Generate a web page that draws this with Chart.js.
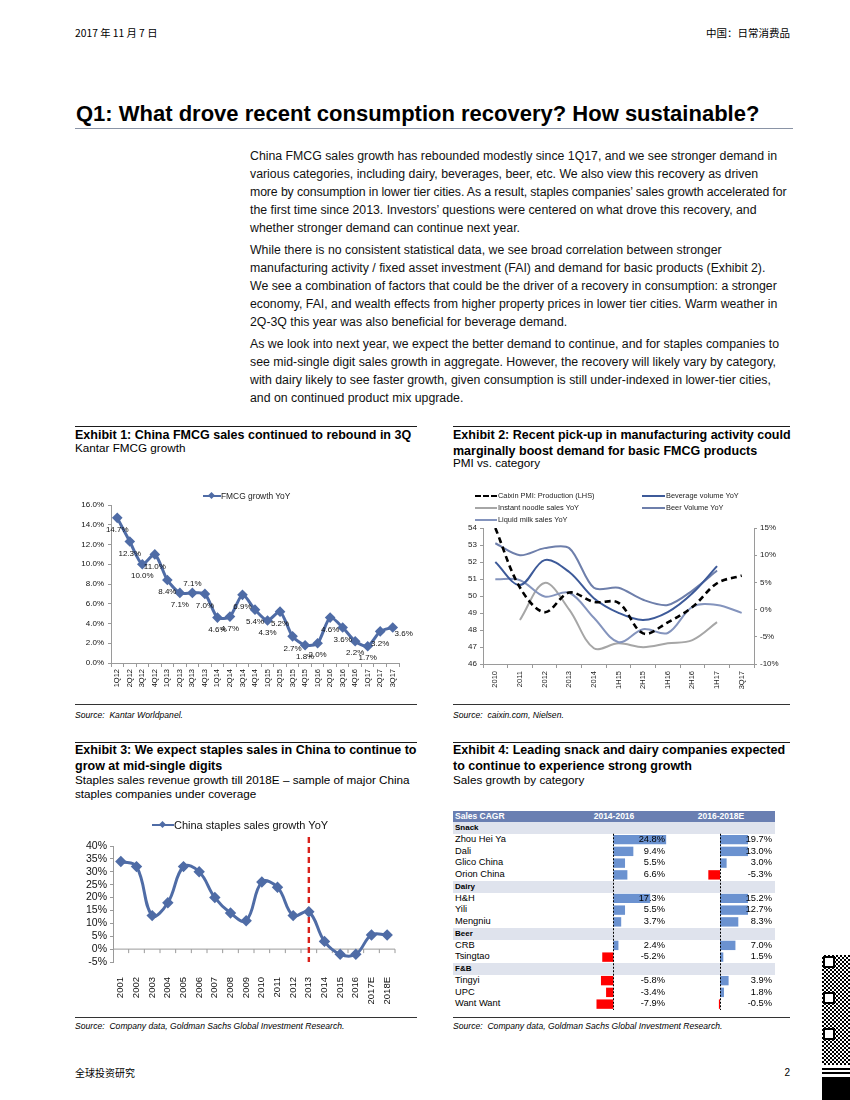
<!DOCTYPE html>
<html><head><meta charset="utf-8">
<script src="https://cdn.jsdelivr.net/npm/chart.js@4.4.1/dist/chart.umd.min.js"></script>
<style>
html,body{margin:0;padding:0;background:#fff;}
body{width:850px;height:1100px;position:relative;overflow:hidden;font-family:'Liberation Sans',Arial,sans-serif;color:#000;}
.abs{position:absolute;white-space:nowrap;}
.cjk{font-family:'Noto Sans CJK SC','Liberation Sans',sans-serif;}
.body{position:absolute;left:250px;font-size:12.3px;line-height:18px;white-space:pre;color:#111;}
.tight{letter-spacing:-0.11px;}
.h{position:absolute;font-weight:bold;font-size:12.5px;line-height:16px;white-space:pre;}
.sub{position:absolute;font-size:11.7px;line-height:14px;white-space:pre;}
.rule{position:absolute;height:1.4px;background:#1a1a1a;}
.thin{position:absolute;height:1px;background:#333;}
.src{position:absolute;font-style:italic;font-size:8.6px;line-height:11px;white-space:nowrap;}
canvas{position:absolute;}
.leg{position:absolute;font-size:7.4px;line-height:10px;white-space:nowrap;color:#222;}
.legline{position:absolute;height:0;}
.cell{position:absolute;white-space:nowrap;font-size:9px;}
</style>
</head>
<body>
<div class="abs cjk" style="left:75px;top:26px;font-size:10.3px;line-height:14px;">2017 年 11 月 7 日</div>
<div class="abs cjk" style="right:60px;top:26px;font-size:10.5px;line-height:14px;">中国：日常消费品</div>

<div class="abs" style="left:76px;top:101px;font-size:22px;line-height:25px;font-weight:bold;">Q1: What drove recent consumption recovery? How sustainable?</div>
<div class="abs" style="left:75px;top:128px;width:718px;height:1px;background:#8a94a6;"></div>

<div class="body" style="top:147px;">China FMCG sales growth has rebounded modestly since 1Q17, and we see stronger demand in
various categories, including dairy, beverages, beer, etc. We also view this recovery as driven
<span class="tight">more by consumption in lower tier cities. As a result, staples companies’ sales growth accelerated for</span>
the first time since 2013. Investors’ questions were centered on what drove this recovery, and
whether stronger demand can continue next year.</div>
<div class="body" style="top:241px;">While there is no consistent statistical data, we see broad correlation between stronger
manufacturing activity / fixed asset investment (FAI) and demand for basic products (Exhibit 2).
We see a combination of factors that could be the driver of a recovery in consumption: a stronger
economy, FAI, and wealth effects from higher property prices in lower tier cities. Warm weather in
2Q-3Q this year was also beneficial for beverage demand.</div>
<div class="body" style="top:335px;">As we look into next year, we expect the better demand to continue, and for staples companies to
see mid-single digit sales growth in aggregate. However, the recovery will likely vary by category,
with dairy likely to see faster growth, given consumption is still under-indexed in lower-tier cities,
and on continued product mix upgrade.</div>

<!-- Exhibit 1 heading -->
<div class="rule" style="left:75px;top:426px;width:342px;"></div>
<div class="h" style="left:75px;top:427px;">Exhibit 1: China FMCG sales continued to rebound in 3Q</div>
<div class="sub" style="left:75px;top:441px;">Kantar FMCG growth</div>
<!-- Exhibit 2 heading -->
<div class="rule" style="left:453px;top:426px;width:337px;"></div>
<div class="h" style="left:453px;top:427px;">Exhibit 2: Recent pick-up in manufacturing activity could
marginally boost demand for basic FMCG products</div>
<div class="sub" style="left:453px;top:456px;">PMI vs. category</div>

<!-- chart 1 -->
<canvas id="c1" width="345" height="215" style="left:75px;top:485px;"></canvas>
<div class="legline" style="left:203px;top:495px;width:18px;border-top:2.5px solid #4f6ca6;"></div>
<div class="abs" style="left:209px;top:493px;width:5px;height:5px;background:#4f6ca6;transform:rotate(45deg);"></div>
<div class="abs" style="left:221px;top:491px;font-size:8.4px;line-height:10px;color:#222;">FMCG growth YoY</div>

<!-- chart 2 -->
<canvas id="c2" width="337" height="220" style="left:453px;top:480px;"></canvas>
<div class="legline" style="left:475px;top:495px;width:22px;border-top:2.5px dashed #000;"></div>
<div class="leg" style="left:498px;top:491px;">Caixin PMI: Production (LHS)</div>
<div class="legline" style="left:475px;top:507px;width:22px;border-top:2px solid #a6a6a6;"></div>
<div class="leg" style="left:498px;top:503px;">Instant noodle sales YoY</div>
<div class="legline" style="left:475px;top:519px;width:22px;border-top:2px solid #8494bd;"></div>
<div class="leg" style="left:498px;top:515px;">Liquid milk sales YoY</div>
<div class="legline" style="left:642px;top:495px;width:23px;border-top:2px solid #3d5a99;"></div>
<div class="leg" style="left:666px;top:491px;">Beverage volume YoY</div>
<div class="legline" style="left:642px;top:507px;width:23px;border-top:2px solid #6e7fab;"></div>
<div class="leg" style="left:666px;top:503px;">Beer Volume YoY</div>

<!-- sources 1/2 -->
<div class="thin" style="left:75px;top:704px;width:342px;"></div>
<div class="src" style="left:75px;top:710px;">Source:&nbsp; Kantar Worldpanel.</div>
<div class="thin" style="left:453px;top:704px;width:337px;"></div>
<div class="src" style="left:453px;top:710px;">Source:&nbsp; caixin.com, Nielsen.</div>

<!-- Exhibit 3 heading -->
<div class="rule" style="left:75px;top:742px;width:342px;"></div>
<div class="h" style="left:75px;top:742px;">Exhibit 3: We expect staples sales in China to continue to
grow at mid-single digits</div>
<div class="sub" style="left:75px;top:773px;">Staples sales revenue growth till 2018E – sample of major China
staples companies under coverage</div>
<!-- Exhibit 4 heading -->
<div class="rule" style="left:453px;top:742px;width:337px;"></div>
<div class="h" style="left:453px;top:742px;">Exhibit 4: Leading snack and dairy companies expected
to continue to experience strong growth</div>
<div class="sub" style="left:453px;top:773px;">Sales growth by category</div>

<!-- chart 3 -->
<canvas id="c3" width="345" height="200" style="left:75px;top:810px;"></canvas>
<div class="legline" style="left:152px;top:824px;width:22px;border-top:2.5px solid #4f6ca6;"></div>
<div class="abs" style="left:160px;top:822px;width:5px;height:5px;background:#4f6ca6;transform:rotate(45deg);"></div>
<div class="abs" style="left:174px;top:818px;font-size:11px;line-height:14px;color:#111;">China staples sales growth YoY</div>

<!-- table 4 -->
<div id="tbl"></div>
<canvas id="c4a" width="73" height="188" style="left:594px;top:822px;"></canvas>
<canvas id="c4b" width="44" height="188" style="left:704px;top:822px;"></canvas>

<!-- sources 3/4 -->
<div class="thin" style="left:75px;top:1017px;width:342px;"></div>
<div class="src" style="left:75px;top:1021px;">Source:&nbsp; Company data, Goldman Sachs Global Investment Research.</div>
<div class="thin" style="left:453px;top:1017px;width:337px;"></div>
<div class="src" style="left:453px;top:1021px;">Source:&nbsp; Company data, Goldman Sachs Global Investment Research.</div>

<div class="abs cjk" style="left:75px;top:1066px;font-size:10px;line-height:14px;">全球投资研究</div>
<div class="abs" style="right:60px;top:1066px;font-size:10px;line-height:14px;">2</div>

<!-- QR-like mark -->
<div class="abs" style="left:822px;top:955px;width:28px;height:110px;background:repeating-conic-gradient(#000 0 25%,#fff 0 50%) 0 0/4px 4px;"></div>
<div class="abs" style="left:823px;top:956px;width:8px;height:8px;border:2px solid #000;background:#fff;"></div>
<div class="abs" style="left:823px;top:992px;width:8px;height:8px;border:2px solid #000;background:#fff;"></div>
<div class="abs" style="left:823px;top:1028px;width:8px;height:8px;border:2px solid #000;background:#fff;"></div>
<div class="abs" style="left:822px;top:1068px;width:28px;height:2px;background:#000;"></div>
<div class="abs" style="left:822px;top:1072px;width:28px;height:2px;background:#000;"></div>
<div class="abs" style="left:822px;top:1077px;width:28px;height:23px;background:#000;"></div>

<script>
// ---------- DATA ----------
const fmcgQuarters = ['1Q12','2Q12','3Q12','4Q12','1Q13','2Q13','3Q13','4Q13','1Q14','2Q14','3Q14','4Q14','1Q15','2Q15','3Q15','4Q15','1Q16','2Q16','3Q16','4Q16','1Q17','2Q17','3Q17'];
const fmcgGrowth = [14.7,12.3,10.0,11.0,8.4,7.1,7.1,7.0,4.6,4.7,6.9,5.4,4.3,5.2,2.7,1.8,2.0,4.6,3.6,2.2,1.7,3.2,3.6];
const fmcgTicks = [0,2,4,6,8,10,12,14,16];

const pmiPeriods = ['2010','2011','2012','2013','2014','1H15','2H15','1H16','2H16','1H17','3Q17'];
const pmiProduction = [54.0,50.5,49.05,50.2,49.65,49.6,47.8,48.45,49.35,50.75,51.2];
const beverageVolume = [8.75,4.5,9.1,6.9,2.1,-0.6,-1.9,-0.45,3.0,8.0,null];
const beerVolume = [12.2,10.0,11.3,11.3,4.0,4.0,1.8,0.85,3.5,7.2,null];
const noodleSales = [null,-1.9,4.9,0.0,-7.1,-6.2,-6.9,-6.2,-5.6,-2.3,null];
const milkSales = [5.6,5.4,2.4,3.1,-1.5,-6.0,-3.6,-4.3,0.5,0.85,-0.6];

const staplesYears = ['2001','2002','2003','2004','2005','2006','2007','2008','2009','2010','2011','2012','2013','2014','2015','2016','2017E','2018E'];
const staplesGrowth = [34,32,13,18,32,30,20,14,11,26,24,13,14.5,3,-2,-2,5.5,5.5];
const staplesTicks = [-5,0,5,10,15,20,25,30,35,40];
const forecastDivider = '2013';

const cagrHeader = ['Sales CAGR','2014-2016','2016-2018E'];
const cagrLabels = ['Snack','Zhou Hei Ya','Dali','Glico China','Orion China','Dairy','H&H','Yili','Mengniu','Beer','CRB','Tsingtao','F&B','Tingyi','UPC','Want Want'];
const cagr2014_2016 = [null,24.8,9.4,5.5,6.6,null,17.3,5.5,3.7,null,2.4,-5.2,null,-5.8,-3.4,-7.9];
const cagr2016_2018E = [null,19.7,13.0,3.0,-5.3,null,15.2,12.7,8.3,null,7.0,1.5,null,3.9,1.8,-0.5];

// ---------- STYLE ----------
const BLUE = '#4f6ca6';
const AXIS = '#9a9a9a';
Chart.defaults.font.family = "'Liberation Sans', Arial, sans-serif";
Chart.defaults.color = '#222';
Chart.defaults.animation = false;
Chart.defaults.plugins.tooltip.enabled = false;
Chart.defaults.plugins.legend.display = false;

// ---------- CHART 1 ----------
const fmcgLabelPlugin = {
  id: 'fmcgLabels',
  afterDatasetsDraw(chart) {
    const ctx = chart.ctx, meta = chart.getDatasetMeta(0), data = chart.data.datasets[0].data;
    ctx.save();
    ctx.font = "8px 'Liberation Sans', Arial";
    ctx.fillStyle = '#111'; ctx.textAlign = 'center'; ctx.textBaseline = 'middle';
    meta.data.forEach((p, i) => {
      let x = p.x, y = p.y + 12;
      if (i === 6) { y = p.y - 9; }
      if (i === data.length - 1) { x = p.x + 11; y = p.y + 6; }
      ctx.fillText(data[i].toFixed(1) + '%', x, y);
    });
    ctx.restore();
  }
};
new Chart(document.getElementById('c1'), {
  type: 'line',
  data: { labels: fmcgQuarters, datasets: [{ data: fmcgGrowth, borderColor: BLUE, backgroundColor: BLUE, borderWidth: 3, pointStyle: 'rectRot', pointRadius: 3.2, tension: 0.25 }] },
  options: {
    responsive: false,
    layout: { padding: { top: 20, right: 21, left: 0, bottom: 0 } },
    scales: {
      x: { offset: true, grid: { display: true, drawOnChartArea: false, offset: true, tickLength: 4, color: AXIS }, border: { color: AXIS },
           ticks: { autoSkip: false, maxRotation: 90, minRotation: 90, font: { size: 7.5 }, padding: 2, color: '#111' },
           afterFit: s => { s.height = 37; } },
      y: { min: 0, max: 16, afterBuildTicks: s => { s.ticks = fmcgTicks.map(v => ({ value: v })); },
           ticks: { autoSkip: false, callback: v => v.toFixed(1) + '%', font: { size: 8 }, padding: 4, color: '#111' },
           grid: { display: true, drawOnChartArea: false, tickLength: 3, color: AXIS }, border: { color: AXIS },
           afterFit: s => { s.width = 36; } }
    }
  },
  plugins: [fmcgLabelPlugin]
});

// ---------- CHART 2 ----------
new Chart(document.getElementById('c2'), {
  type: 'line',
  data: { labels: pmiPeriods, datasets: [
    { data: pmiProduction, yAxisID: 'y', borderColor: '#000', borderWidth: 2.6, borderDash: [6, 4], pointRadius: 0, tension: 0.35 },
    { data: beverageVolume, yAxisID: 'y1', borderColor: '#3d5a99', borderWidth: 2, pointRadius: 0, tension: 0.35 },
    { data: beerVolume, yAxisID: 'y1', borderColor: '#6e7fab', borderWidth: 2, pointRadius: 0, tension: 0.3 },
    { data: milkSales, yAxisID: 'y1', borderColor: '#8494bd', borderWidth: 2, pointRadius: 0, tension: 0.35 },
    { data: noodleSales, yAxisID: 'y1', borderColor: '#a6a6a6', borderWidth: 2, pointRadius: 0, tension: 0.35 }
  ] },
  options: {
    responsive: false,
    layout: { padding: { top: 48, right: 0, left: 0, bottom: 0 } },
    scales: {
      x: { offset: true, grid: { display: true, drawOnChartArea: false, offset: true, tickLength: 4, color: AXIS }, border: { color: AXIS },
           ticks: { autoSkip: false, maxRotation: 90, minRotation: 90, font: { size: 7.5 }, padding: 3, color: '#222' },
           afterFit: s => { s.height = 36; } },
      y: { position: 'left', min: 46, max: 54, ticks: { autoSkip: false, stepSize: 1, font: { size: 8 }, padding: 3, color: '#222' },
           grid: { display: true, drawOnChartArea: false, tickLength: 3, color: AXIS }, border: { color: AXIS },
           afterFit: s => { s.width = 30; } },
      y1: { position: 'right', min: -10, max: 15, ticks: { autoSkip: false, stepSize: 5, callback: v => v + '%', font: { size: 8 }, padding: 3, color: '#222' },
           grid: { display: true, drawOnChartArea: false, tickLength: 3, color: AXIS }, border: { color: AXIS },
           afterFit: s => { s.width = 36; } }
    }
  }
});

// ---------- CHART 3 ----------
const staplesDecor = {
  id: 'staplesDecor',
  beforeDatasetsDraw(chart) {
    const ctx = chart.ctx, x = chart.scales.x, y = chart.scales.y, a = chart.chartArea;
    const y0 = y.getPixelForValue(0);
    ctx.save();
    ctx.strokeStyle = AXIS; ctx.lineWidth = 1;
    ctx.beginPath(); ctx.moveTo(a.left, y0); ctx.lineTo(a.right, y0);
    const step = (a.right - a.left) / staplesYears.length;
    for (let i = 1; i <= staplesYears.length; i++) { const px = a.left + i * step; ctx.moveTo(px, y0); ctx.lineTo(px, y0 + 4); }
    ctx.stroke();
    const xd = x.getPixelForValue(staplesYears.indexOf(forecastDivider));
    ctx.strokeStyle = '#d9221c'; ctx.lineWidth = 2.4; ctx.setLineDash([6, 4]);
    ctx.beginPath(); ctx.moveTo(xd, a.top - 9); ctx.lineTo(xd, a.bottom); ctx.stroke();
    ctx.restore();
  }
};
new Chart(document.getElementById('c3'), {
  type: 'line',
  data: { labels: staplesYears, datasets: [{ data: staplesGrowth, borderColor: BLUE, backgroundColor: BLUE, borderWidth: 3, pointStyle: 'rectRot', pointRadius: 3.6, tension: 0.4 }] },
  options: {
    responsive: false,
    layout: { padding: { top: 36, right: 25, left: 0, bottom: 0 } },
    scales: {
      x: { offset: true, grid: { display: false }, border: { display: false },
           ticks: { autoSkip: false, maxRotation: 90, minRotation: 90, font: { size: 9.5 }, padding: 7, color: '#111' },
           afterFit: s => { s.height = 48; } },
      y: { min: -5, max: 40, afterBuildTicks: s => { s.ticks = staplesTicks.map(v => ({ value: v })); },
           ticks: { autoSkip: false, callback: v => v + '%', font: { size: 10.5 }, padding: 3, color: '#111' },
           grid: { display: true, drawOnChartArea: false, tickLength: 3, color: AXIS }, border: { color: AXIS },
           afterFit: s => { s.width = 38; } }
    }
  },
  plugins: [staplesDecor]
});

// ---------- TABLE 4 ----------
const ROW_TOP = 822, ROW_H = 188 / cagrLabels.length, T_LEFT = 453, T_W = 322;
let html = '';
html += `<div class="abs" style="left:${T_LEFT}px;top:811px;width:${T_W}px;height:11.3px;background:#6a7fb2;"></div>`;
html += `<div class="cell" style="left:455px;top:811px;line-height:11.3px;color:#fff;font-weight:bold;font-size:8.5px;">${cagrHeader[0]}</div>`;
html += `<div class="cell" style="left:573px;width:82px;text-align:center;top:811px;line-height:11.3px;color:#fff;font-weight:bold;font-size:8.5px;">${cagrHeader[1]}</div>`;
html += `<div class="cell" style="left:680px;width:82px;text-align:center;top:811px;line-height:11.3px;color:#fff;font-weight:bold;font-size:8.5px;">${cagrHeader[2]}</div>`;
const fmt = v => v.toFixed(1) + '%';
cagrLabels.forEach((name, i) => {
  const top = ROW_TOP + i * ROW_H;
  const isCat = cagr2014_2016[i] === null && cagr2016_2018E[i] === null;
  if (isCat) {
    html += `<div class="abs" style="left:${T_LEFT}px;top:${top}px;width:${T_W}px;height:${ROW_H}px;background:#dfe3ed;"></div>`;
    html += `<div class="cell" style="left:455px;top:${top}px;line-height:${ROW_H}px;font-weight:bold;font-size:8px;">${name}</div>`;
  } else {
    html += `<div class="cell" style="left:455px;top:${top}px;line-height:${ROW_H}px;font-size:9.3px;">${name}</div>`;
    html += `<div class="cell" style="left:605px;width:60px;text-align:right;top:${top}px;line-height:${ROW_H}px;font-size:9.3px;z-index:2;">${fmt(cagr2014_2016[i])}</div>`;
    html += `<div class="cell" style="left:712px;width:60px;text-align:right;top:${top}px;line-height:${ROW_H}px;font-size:9.3px;z-index:2;">${fmt(cagr2016_2018E[i])}</div>`;
  }
});
document.getElementById('tbl').innerHTML = html;

const zeroLine = {
  id: 'zeroLine',
  afterDatasetsDraw(chart) {
    const ctx = chart.ctx, a = chart.chartArea, x0 = Math.round(chart.scales.x.getPixelForValue(0)) + 0.5;
    ctx.save(); ctx.strokeStyle = '#000'; ctx.lineWidth = 1; ctx.setLineDash([2, 1.5]);
    ctx.beginPath(); ctx.moveTo(x0, a.top + (a.bottom - a.top) / cagrLabels.length); ctx.lineTo(x0, a.bottom); ctx.stroke();
    ctx.restore();
  }
};
function cagrChart(id, values, min, max) {
  new Chart(document.getElementById(id), {
    type: 'bar',
    data: { labels: cagrLabels, datasets: [{ data: values, backgroundColor: values.map(v => v !== null && v < 0 ? '#ff0000' : '#6b92d0'), barPercentage: 0.8, categoryPercentage: 1 }] },
    options: {
      responsive: false, indexAxis: 'y',
      layout: { padding: 0 },
      scales: { x: { display: false, min: min, max: max }, y: { display: false } }
    },
    plugins: [zeroLine]
  });
}
cagrChart('c4a', cagr2014_2016, -9.07, 25.2);
cagrChart('c4b', cagr2016_2018E, -7.26, 12.7);
</script>
</body></html>
